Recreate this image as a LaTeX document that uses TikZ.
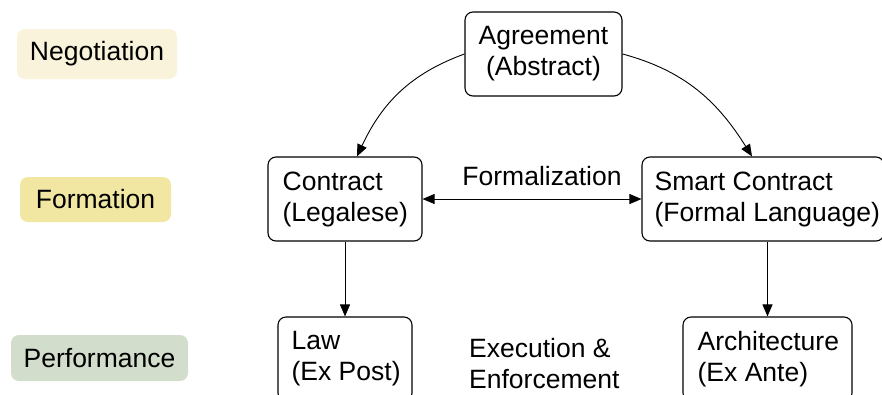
\documentclass[tikz,border=0pt]{standalone}
\usepackage{fontspec}
\setmainfont{Liberation Sans}
\usetikzlibrary{arrows.meta}
\definecolor{negfill}{HTML}{F8F3DA}
\definecolor{formfill}{HTML}{F2E7A2}
\definecolor{perffill}{HTML}{D3DDCB}
\begin{document}
\begin{tikzpicture}[x=1pt,y=1pt,
  >={Triangle[length=12pt,width=10pt]},
  txt/.style={font=\fontsize{26.5}{31}\selectfont},
  box/.style={txt, draw, line width=1.1pt, rounded corners=8pt,
    minimum height=84pt, inner sep=0pt},
  frame/.style={box, minimum width=#1},
  inside/.style={txt, align=left, anchor=west, inner sep=0pt},
  phase/.style={txt, rounded corners=8pt, inner sep=0pt},
  link/.style={->, line width=0.9pt},
  dlink/.style={<->, line width=0.9pt}
]
\useasboundingbox (0,0) rectangle (882,-394);
\clip (0,0) rectangle (882,-394);

% phase labels
\node[phase, fill=negfill, minimum width=160pt, minimum height=50pt] (neg) at (97,-54) {Negotiation};
\node[phase, fill=formfill, minimum width=151pt, minimum height=45pt] (form) at (95.5,-199.5) {Formation};
\node[phase, fill=perffill, minimum width=177pt, minimum height=46pt] (perf) at (99.5,-358) {Performance};

% boxes
\node[box, align=center, minimum width=157pt] (agr) at (543.5,-54) {Agreement\\(Abstract)};
\node[frame=154pt] (con) at (345,-199) {};
\node[frame=242pt] (sc) at (763,-199) {};
\node[frame=134pt] (law) at (345,-359) {};
\node[frame=169pt] (arch) at (767.5,-359) {};

% left-aligned box contents
\node[inside] (conT) at ([xshift=15pt]con.west) {Contract\\(Legalese)};
\node[inside] (scT) at ([xshift=13pt]sc.west) {Smart Contract\\(Formal Language)};
\node[inside] (lawT) at ([xshift=14pt]law.west) {Law\\(Ex Post)};
\node[inside] (archT) at ([xshift=15pt]arch.west) {Architecture\\(Ex Ante)};

% free labels
\node[txt] (formal) at (542,-176) {Formalization};
\node[inside] (exec) at (469,-364) {Execution \&\\Enforcement};

% connectors
\draw[link] (agr.west) to[out=200, in=65] ([xshift=12pt]con.north);
\draw[link] (agr.east) to[out=-15, in=122] ([xshift=-11pt]sc.north);
\draw[dlink] (con.east) -- (sc.west);
\draw[link] (con.south) -- (law.north);
\draw[link] (arch.north |- sc.south) -- (arch.north);
\end{tikzpicture}
\end{document}
